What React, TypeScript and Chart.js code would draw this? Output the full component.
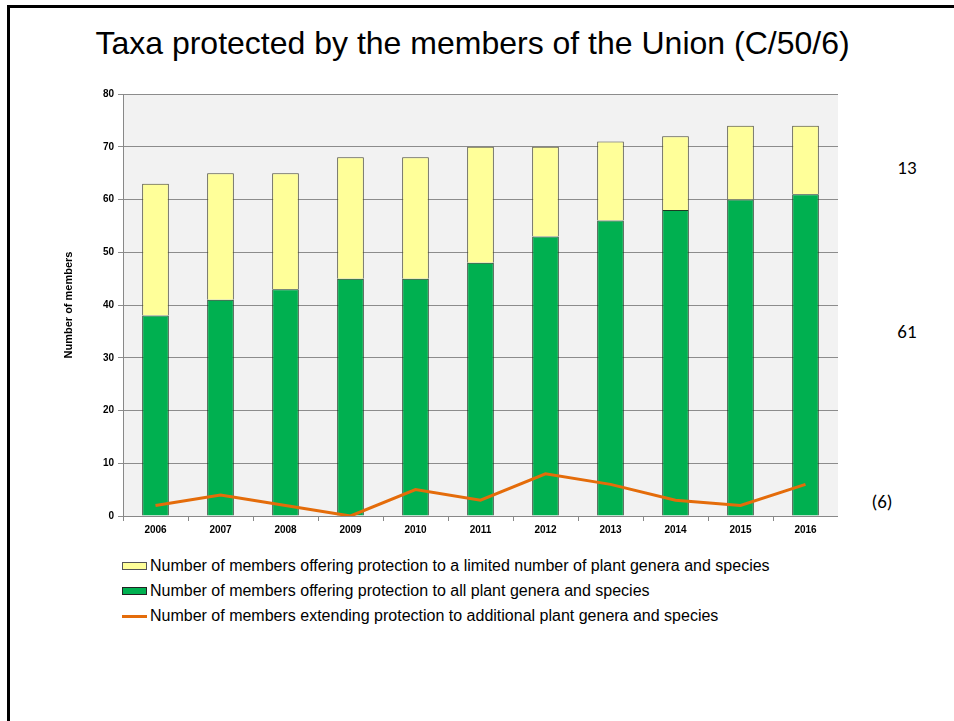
import {useEffect, useRef} from "react";
import {Chart, registerables} from "chart.js";

Chart.register(...registerables);

const years = ["2006", "2007", "2008", "2009", "2010", "2011", "2012", "2013", "2014", "2015", "2016"];
const allGenera = [38, 41, 43, 45, 45, 48, 53, 56, 58, 60, 61];
const limitedGenera = [25, 24, 22, 23, 23, 22, 17, 15, 14, 14, 13];
const extending = [2, 4, 2, 0, 5, 3, 8, 6, 3, 2, 6];
const yTicks = [0, 10, 20, 30, 40, 50, 60, 70, 80];

const labelLimited = "Number of members offering protection to a limited number of plant genera and species";
const labelAll = "Number of members offering protection to all plant genera and species";
const labelExtending = "Number of members extending protection to additional plant genera and species";

const YELLOW = "#ffff99";
const GREEN = "#00b050";
const ORANGE = "#e46c0a";

// fills the plot area with the light grey of the original slide
const plotBackground = {
  id: "plotBackground",
  beforeDraw(chart: Chart) {
    const {ctx, chartArea} = chart;
    ctx.save();
    ctx.fillStyle = "#f2f2f2";
    ctx.fillRect(chartArea.left, chartArea.top, chartArea.right - chartArea.left, chartArea.bottom - chartArea.top);
    ctx.restore();
  },
};

const tickFont = {family: "'Liberation Sans', Arial, sans-serif", size: 10, weight: "bold" as const};

export default function App() {
  const chartRef = useRef<HTMLCanvasElement>(null);
  const chartInstance = useRef<Chart | null>(null);

  useEffect(() => {
    if (!chartRef.current) return;
    if (chartInstance.current) chartInstance.current.destroy();

    const ctx = chartRef.current.getContext("2d");
    if (!ctx) return;

    chartInstance.current = new Chart(ctx, {
      type: "bar",
      data: {
        labels: years,
        datasets: [
          {
            type: "line",
            label: labelExtending,
            data: extending,
            borderColor: ORANGE,
            borderWidth: 3,
            pointRadius: 0,
            tension: 0,
            stack: "line",
            order: 0,
          },
          {
            label: labelAll,
            data: allGenera,
            backgroundColor: GREEN,
            borderColor: "#1c3a24",
            borderWidth: 1,
            stack: "bars",
            order: 1,
          },
          {
            label: labelLimited,
            data: limitedGenera,
            backgroundColor: YELLOW,
            borderColor: "#4a4a38",
            borderWidth: 1,
            stack: "bars",
            order: 1,
          },
        ],
      },
      options: {
        animation: false,
        responsive: false,
        maintainAspectRatio: false,
        layout: {padding: {top: 14, right: 0, bottom: 0, left: 0}},
        datasets: {bar: {barPercentage: 0.41, categoryPercentage: 1}},
        scales: {
          x: {
            stacked: true,
            grid: {drawOnChartArea: false, drawTicks: true, tickLength: 5, color: "#888", offset: true},
            border: {color: "#888"},
            ticks: {color: "#000", font: tickFont, padding: 3, maxRotation: 0},
            afterFit: (scale: any) => {
              scale.height = 34;
            },
          },
          y: {
            stacked: true,
            min: 0,
            max: 80,
            afterBuildTicks: (scale: any) => {
              scale.ticks = yTicks.map(v => ({value: v}));
            },
            grid: {color: "#8c8c8c", tickLength: 5},
            border: {color: "#888"},
            ticks: {color: "#000", font: tickFont, padding: 4},
            title: {
              display: true,
              text: "Number of members",
              color: "#000",
              font: {family: "'Liberation Sans', Arial, sans-serif", size: 11, weight: "bold"},
              padding: {top: 22, bottom: 0},
            },
            afterFit: (scale: any) => {
              scale.width = 83;
            },
          },
        },
        plugins: {
          legend: {display: false},
          tooltip: {enabled: false},
        },
      },
      plugins: [plotBackground],
    });

    return () => {
      if (chartInstance.current) {
        chartInstance.current.destroy();
        chartInstance.current = null;
      }
    };
  }, []);

  const legendRows = [
    {label: labelLimited, color: YELLOW, border: "#555", line: false},
    {label: labelAll, color: GREEN, border: "#222", line: false},
    {label: labelExtending, color: ORANGE, border: ORANGE, line: true},
  ];

  const sideNote = {
    position: "absolute" as const,
    fontFamily: "Carlito, 'Open Sans', sans-serif",
    fontSize: 19,
    color: "#000",
    lineHeight: "24px",
    transform: "translate(-50%, -50%)",
    whiteSpace: "nowrap" as const,
  };

  return (
    <div
      style={{
        position: "absolute",
        left: 0,
        top: 0,
        width: 954,
        height: 721,
        overflow: "hidden",
        background: "#fff",
        fontFamily: "'Liberation Sans', Arial, sans-serif",
      }}
    >
      <div
        style={{
          position: "absolute",
          left: 7,
          top: 5,
          width: 1000,
          height: 800,
          border: "3px solid #000",
          boxSizing: "border-box",
        }}
      />
      <div
        style={{
          position: "absolute",
          left: 0,
          width: 945,
          top: 25,
          textAlign: "center",
          fontSize: 32,
          lineHeight: "36px",
          color: "#000",
          whiteSpace: "nowrap",
        }}
      >
        Taxa protected by the members of the Union (C/50/6)
      </div>
      <canvas
        ref={chartRef}
        width={798}
        height={470}
        style={{position: "absolute", left: 40, top: 80, width: 798, height: 470}}
      />
      <div style={{...sideNote, left: 907, top: 168}}>13</div>
      <div style={{...sideNote, left: 907, top: 332}}>61</div>
      <div style={{...sideNote, left: 882, top: 502}}>(6)</div>
      {legendRows.map((row, i) => (
        <div
          key={row.label}
          style={{
            position: "absolute",
            left: 122,
            top: 566 + i * 25 - 11,
            height: 22,
            display: "flex",
            alignItems: "center",
            whiteSpace: "nowrap",
            fontSize: 16,
            color: "#000",
          }}
        >
          {row.line ? (
            <span style={{display: "inline-block", width: 25, height: 3, background: row.color, marginRight: 3}} />
          ) : (
            <span
              style={{
                display: "inline-block",
                width: 25,
                height: 8,
                background: row.color,
                border: `1px solid ${row.border}`,
                boxSizing: "border-box",
                marginRight: 3,
              }}
            />
          )}
          <span>{row.label}</span>
        </div>
      ))}
    </div>
  );
}
